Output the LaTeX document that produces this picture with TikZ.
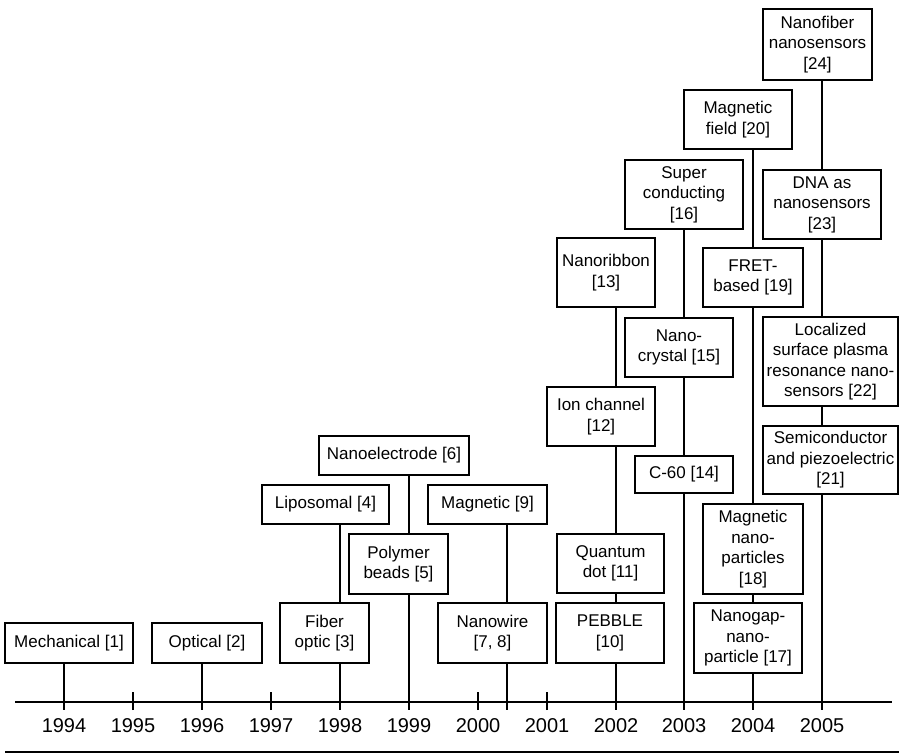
\documentclass[tikz,border=0pt]{standalone}
\usepackage{fontspec}
\setmainfont{Liberation Sans}
\begin{document}
\begin{tikzpicture}[x=1pt,y=-1pt,line width=1.8pt,
  bx/.style={draw,line width=1.8pt,inner sep=0pt,align=center,font=\fontsize{17}{20.5}\selectfont},
  yr/.style={font=\fontsize{20}{24}\selectfont,inner sep=0pt},
  conn/.style={line width=1.8pt}]
\useasboundingbox (0,0) rectangle (899,754);
% year tick coordinates (bottom end)
\foreach \n/\x in {1994/64,1995/133,1996/202,1997/271,1998/340,1999/409,2000/478,2001/547,2002/616,2003/684,2004/753,2005/822}{
  \coordinate (t\n) at (\x,710);
  \node[yr] (y\n) at (\x,726) {\n};
}
\coordinate (tnw) at (507,710);
\coordinate (axL) at (15,702);
\coordinate (axR) at (892,702);
\coordinate (ruleL) at (5,752);
\coordinate (ruleR) at (899,752);
\draw[conn] (axL) -- (axR);
\draw[conn] (ruleL) -- (ruleR);
\foreach \n in {1995,1997,2000,2001}{
  \draw[conn] (t\n) -- ++(0,-18);
}
% boxes
\node[bx,minimum width=128,minimum height=40] (mech) at (69,643) {Mechanical [1]};
\node[bx,minimum width=110,minimum height=40] (opt) at (207,643) {Optical [2]};
\node[bx,minimum width=89,minimum height=60] (fib) at (324.5,633) {Fiber\\optic [3]};
\node[bx,minimum width=127,minimum height=39] (lipo) at (325.5,504.5) {Liposomal [4]};
\node[bx,minimum width=150,minimum height=39] (nanoel) at (394,455.5) {Nanoelectrode [6]};
\node[bx,minimum width=99,minimum height=60] (poly) at (398.5,564) {Polymer\\beads [5]};
\node[bx,minimum width=119,minimum height=39] (mag9) at (487.5,504.5) {Magnetic [9]};
\node[bx,minimum width=109,minimum height=60] (nwire) at (492.5,633) {Nanowire\\{}[7, 8]};
\node[bx,minimum width=108,minimum height=60] (pebble) at (610,633) {PEBBLE\\{}[10]};
\node[bx,minimum width=107,minimum height=59] (qdot) at (610.5,563.5) {Quantum\\dot [11]};
\node[bx,minimum width=108,minimum height=59] (ion) at (601,416.5) {Ion channel\\{}[12]};
\node[bx,minimum width=98,minimum height=69] (ribbon) at (606,272.5) {Nanoribbon\\{}[13]};
\node[bx,minimum width=118,minimum height=69] (super) at (684,194.5) {Super\\conducting\\{}[16]};
\node[bx,minimum width=108,minimum height=59] (crystal) at (679,347.5) {Nano-\\crystal [15]};
\node[bx,minimum width=98,minimum height=37] (c60) at (684,474.5) {C-60 [14]};
\node[bx,minimum width=108,minimum height=59] (magfield) at (738,119.5) {Magnetic\\field [20]};
\node[bx,minimum width=100,minimum height=59] (fret) at (753,277.5) {FRET-\\based [19]};
\node[bx,minimum width=100,minimum height=90] (magnp) at (753,549) {Magnetic\\nano-\\particles\\{}[18]};
\node[bx,minimum width=108,minimum height=70] (gap) at (748,638) {Nanogap-\\nano-\\particle [17]};
\node[bx,minimum width=109,minimum height=71] (nfiber) at (817.5,44.5) {Nanofiber\\nanosensors\\{}[24]};
\node[bx,minimum width=118,minimum height=69] (dna) at (822,204.5) {DNA as\\nanosensors\\{}[23]};
\node[bx,minimum width=135,minimum height=89] (lspr) at (830.5,361.5) {Localized\\surface plasma\\resonance nano-\\sensors [22]};
\node[bx,minimum width=135,minimum height=68] (semi) at (830.5,460) {Semiconductor\\and piezoelectric\\{}[21]};
% connectors
\draw[conn] (mech.south -| t1994) -- (t1994);
\draw[conn] (opt.south -| t1996) -- (t1996);
\draw[conn] (lipo.south -| t1998) -- (fib.north -| t1998);
\draw[conn] (fib.south -| t1998) -- (t1998);
\draw[conn] (nanoel.south -| t1999) -- (poly.north -| t1999);
\draw[conn] (poly.south -| t1999) -- (t1999);
\draw[conn] (mag9.south -| tnw) -- (nwire.north -| tnw);
\draw[conn] (nwire.south -| tnw) -- (tnw);
\draw[conn] (ribbon.south -| t2002) -- (ion.north -| t2002);
\draw[conn] (ion.south -| t2002) -- (qdot.north -| t2002);
\draw[conn] (qdot.south -| t2002) -- (pebble.north -| t2002);
\draw[conn] (pebble.south -| t2002) -- (t2002);
\draw[conn] (super.south -| t2003) -- (crystal.north -| t2003);
\draw[conn] (crystal.south -| t2003) -- (c60.north -| t2003);
\draw[conn] (c60.south -| t2003) -- (t2003);
\draw[conn] (magfield.south -| t2004) -- (fret.north -| t2004);
\draw[conn] (fret.south -| t2004) -- (magnp.north -| t2004);
\draw[conn] (magnp.south -| t2004) -- (gap.north -| t2004);
\draw[conn] (gap.south -| t2004) -- (t2004);
\draw[conn] (nfiber.south -| t2005) -- (dna.north -| t2005);
\draw[conn] (dna.south -| t2005) -- (lspr.north -| t2005);
\draw[conn] (lspr.south -| t2005) -- (semi.north -| t2005);
\draw[conn] (semi.south -| t2005) -- (t2005);
\end{tikzpicture}
\end{document}
